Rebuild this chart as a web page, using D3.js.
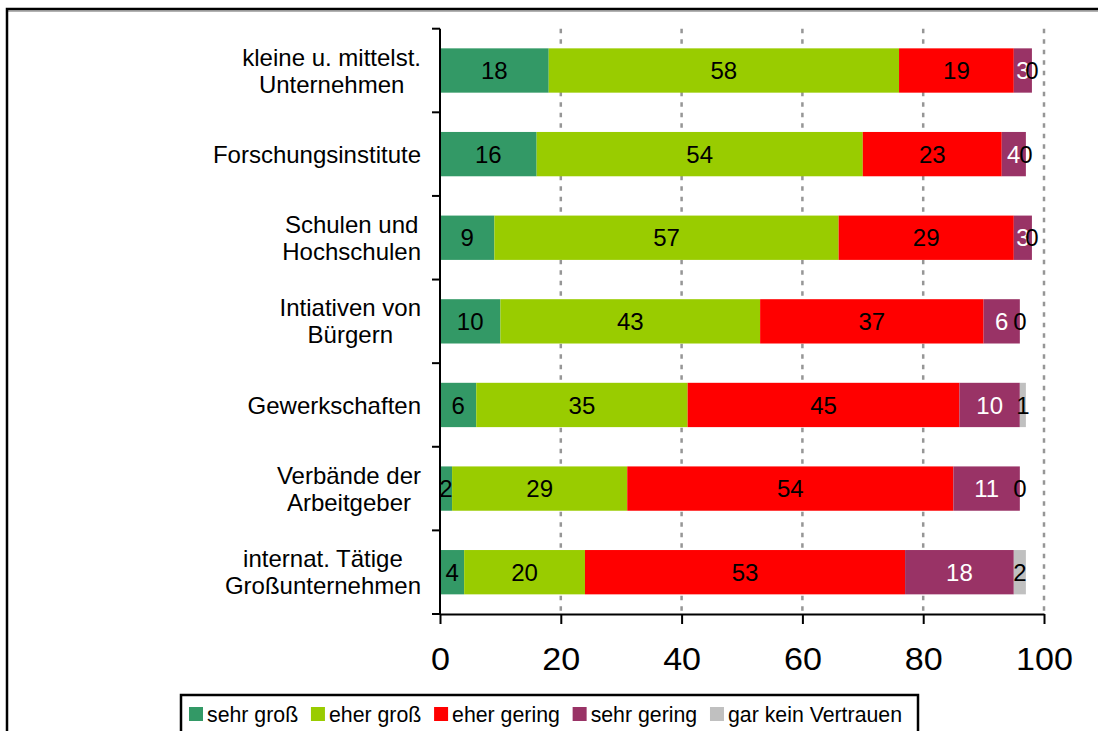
<!DOCTYPE html>
<html>
<head>
<meta charset="utf-8">
<script src="https://cdn.jsdelivr.net/npm/d3@7"></script>
<style>
  html, body { margin: 0; background: #fff; overflow: hidden; }
  svg { display: block; font-family: Arial, "Liberation Sans", sans-serif; }
</style>
</head>
<body>
<div id="chart"></div>
<script>
// categories (top to bottom) and the five answer series in percent
const categories = [
  ["kleine u. mittelst.", "Unternehmen"],
  ["Forschungsinstitute"],
  ["Schulen und", "Hochschulen"],
  ["Intiativen von", "Bürgern"],
  ["Gewerkschaften"],
  ["Verbände der", "Arbeitgeber"],
  ["internat. Tätige", "Großunternehmen"]
];
const sehrGross  = [18, 16,  9, 10,  6,  2,  4];
const eherGross  = [58, 54, 57, 43, 35, 29, 20];
const eherGering = [19, 23, 29, 37, 45, 54, 53];
const sehrGering = [ 3,  4,  3,  6, 10, 11, 18];
const garKein    = [ 0,  0,  0,  0,  1,  0,  2];
const seriesNames = ["sehr groß", "eher groß", "eher gering", "sehr gering", "gar kein Vertrauen"];
const xTicks = [0, 20, 40, 60, 80, 100];

const colors = ["#339966", "#99cc00", "#ff0000", "#993366", "#c0c0c0"];
const labelColors = ["#000", "#000", "#000", "#fff", "#000"];

const svgWidth = 1098;
const svgHeight = 731;

const svg = d3.select("#chart").append("svg")
  .attr("width", svgWidth)
  .attr("height", svgHeight);

svg.append("rect").attr("width", svgWidth).attr("height", svgHeight).attr("fill", "#fff");

// outer frame (runs on past the right and bottom edge)
svg.append("line")
  .attr("x1", 8).attr("x2", 1098).attr("y1", 11.2).attr("y2", 11.2)
  .attr("stroke", "#999").attr("stroke-width", 1.2);
svg.append("path")
  .attr("d", "M7,740 V9 H1098")
  .attr("fill", "none").attr("stroke", "#000").attr("stroke-width", 2.5);

const keys = d3.range(seriesNames.length);
const rows = categories.map((c, i) => ({
  idx: i,
  0: sehrGross[i], 1: eherGross[i], 2: eherGering[i], 3: sehrGering[i], 4: garKein[i]
}));
const stacked = d3.stack().keys(keys)(rows);

const x = d3.scaleLinear().domain([0, 100]).range([440, 1044]);
const y = d3.scaleBand().domain(d3.range(categories.length))
  .range([28.7, 614]).paddingInner(0.47).paddingOuter(0.235);

// gridlines
svg.append("g").selectAll("line")
  .data(xTicks.slice(1))
  .join("line")
  .attr("x1", d => x(d)).attr("x2", d => x(d))
  .attr("y1", 28.7).attr("y2", 614)
  .attr("stroke", "#969696").attr("stroke-width", 2.5)
  .attr("stroke-dasharray", "4.5,6");

// bars
const layers = svg.append("g").selectAll("g")
  .data(stacked)
  .join("g")
  .attr("fill", d => colors[d.key]);

layers.selectAll("rect")
  .data(d => d)
  .join("rect")
  .attr("x", d => x(d[0]))
  .attr("width", d => x(d[1]) - x(d[0]))
  .attr("y", d => y(d.data.idx))
  .attr("height", y.bandwidth());

// value labels
svg.append("g").selectAll("g")
  .data(stacked)
  .join("g")
  .attr("fill", d => labelColors[d.key])
  .selectAll("text")
  .data(d => d.map(p => ({ p, key: d.key })))
  .join("text")
  .attr("x", d => x((d.p[0] + d.p[1]) / 2))
  .attr("y", d => y(d.p.data.idx) + y.bandwidth() / 2)
  .attr("dy", "0.36em")
  .attr("text-anchor", "middle")
  .attr("font-size", 24)
  .text(d => d.p.data[d.key]);

// x axis
const xAxis = svg.append("g")
  .attr("transform", "translate(0,614)")
  .call(d3.axisBottom(x).tickValues(xTicks).tickSize(10).tickPadding(24).tickSizeOuter(0));
xAxis.select(".domain").attr("stroke", "#000").attr("stroke-width", 2);
xAxis.selectAll(".tick line").attr("stroke", "#000").attr("stroke-width", 2);
xAxis.selectAll(".tick text")
  .attr("font-size", 31).attr("font-family", "Arial, 'Liberation Sans', sans-serif")
  .attr("fill", "#000")
  .attr("transform", "scale(1.1,1)");

// y axis line and boundary ticks
svg.append("line")
  .attr("x1", 440).attr("x2", 440).attr("y1", 28.7).attr("y2", 615)
  .attr("stroke", "#000").attr("stroke-width", 2);
svg.append("g").selectAll("line")
  .data(d3.range(categories.length + 1))
  .join("line")
  .attr("x1", 432).attr("x2", 440)
  .attr("y1", i => 28.7 + i * y.step()).attr("y2", i => 28.7 + i * y.step())
  .attr("stroke", "#000").attr("stroke-width", 2);

// category labels: right-aligned block, lines centred on each other
const labelRight = 421;
const lineH = 27;
categories.forEach((lines, i) => {
  const cy = y(i) + y.bandwidth() / 2;
  const g = svg.append("g");
  const texts = lines.map((t, j) =>
    g.append("text")
      .attr("y", cy + (j - (lines.length - 1) / 2) * lineH)
      .attr("dy", "0.36em")
      .attr("text-anchor", "middle")
      .attr("font-size", 24)
      .attr("fill", "#000")
      .text(t));
  const w = d3.max(texts, t => t.node().getComputedTextLength());
  texts.forEach(t => t.attr("x", labelRight - w / 2));
});

// legend
const legend = svg.append("g");
legend.append("rect")
  .attr("x", 181).attr("y", 695)
  .attr("width", 737).attr("height", 60)
  .attr("fill", "#fff").attr("stroke", "#000").attr("stroke-width", 2.5);
let lx = 189;
seriesNames.forEach((name, i) => {
  legend.append("rect")
    .attr("x", lx).attr("y", 707)
    .attr("width", 14).attr("height", 14)
    .attr("fill", colors[i]);
  const t = legend.append("text")
    .attr("x", lx + 18).attr("y", 714)
    .attr("dy", "0.36em")
    .attr("font-size", 21.3)
    .attr("fill", "#000")
    .text(name);
  lx += 18 + t.node().getComputedTextLength() + 12.8;
});
</script>
</body>
</html>
